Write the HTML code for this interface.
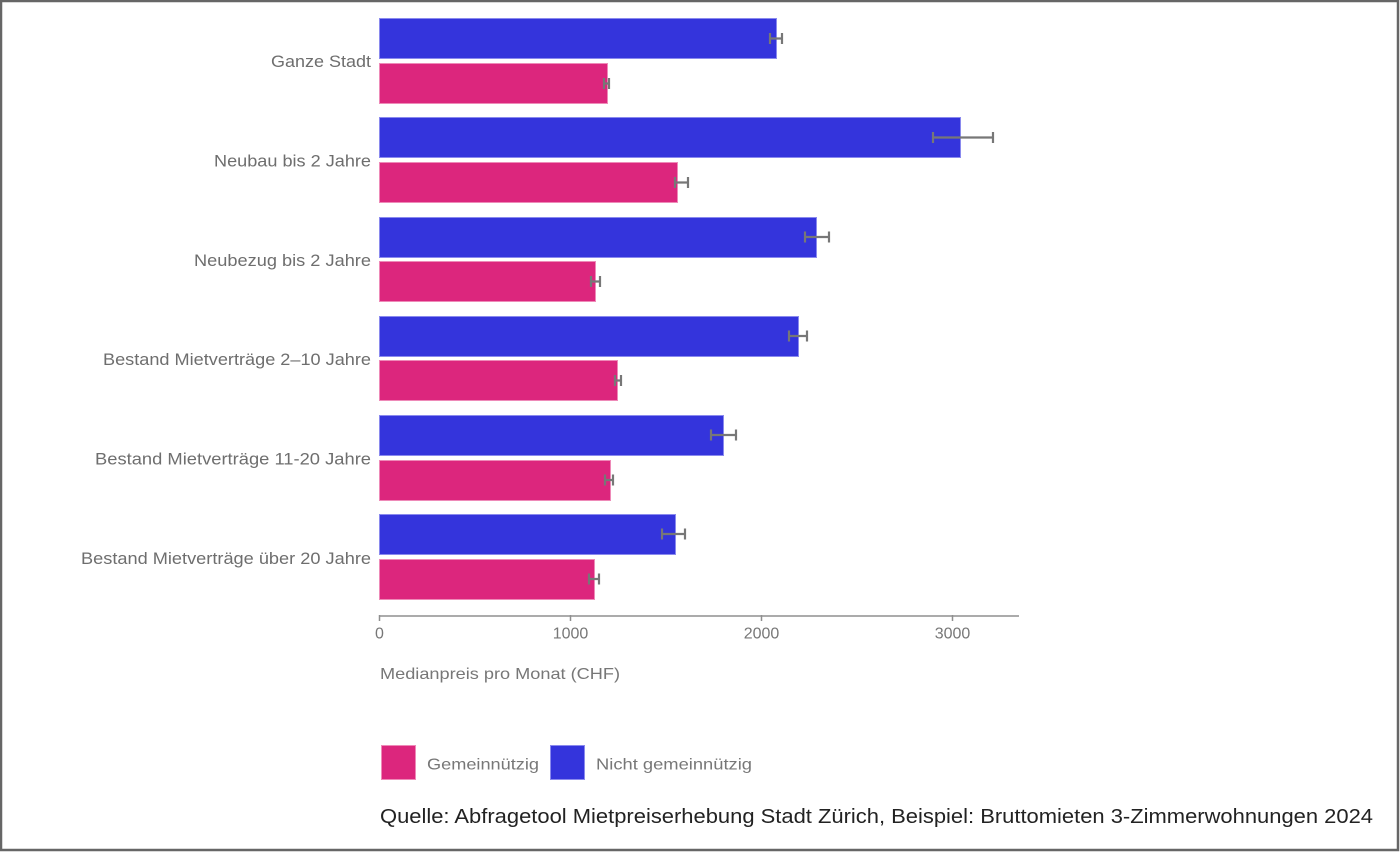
<!DOCTYPE html>
<html><head><meta charset="utf-8"><style>
html,body{margin:0;padding:0;background:#fff}
svg{display:block}
</style></head><body>
<svg width="1400" height="852" viewBox="0 0 1400 852" xmlns="http://www.w3.org/2000/svg" font-family="Liberation Sans, Arial, sans-serif">
<rect x="0" y="0" width="1400" height="852" fill="#fff"/>
<rect x="1" y="1" width="1397" height="849" fill="none" stroke="#666" stroke-width="2.5"/>

<g fill="#6e6e6e" font-size="16.5" text-anchor="end">
<text x="371" y="67" textLength="100" lengthAdjust="spacingAndGlyphs">Ganze Stadt</text>
<text x="371" y="166.4" textLength="157" lengthAdjust="spacingAndGlyphs">Neubau bis 2 Jahre</text>
<text x="371" y="265.8" textLength="177" lengthAdjust="spacingAndGlyphs">Neubezug bis 2 Jahre</text>
<text x="371" y="365.2" textLength="268" lengthAdjust="spacingAndGlyphs">Bestand Mietverträge 2–10 Jahre</text>
<text x="371" y="464.6" textLength="276" lengthAdjust="spacingAndGlyphs">Bestand Mietverträge 11-20 Jahre</text>
<text x="371" y="564" textLength="290" lengthAdjust="spacingAndGlyphs">Bestand Mietverträge über 20 Jahre</text>
</g>

<g stroke-width="1">
<rect x="379.5" y="18.5" width="397" height="40" fill="#3434dc" stroke="#8a8aee"/>
<rect x="379.5" y="63.5" width="228" height="40" fill="#dc267d" stroke="#ee8ab8"/>
<rect x="379.5" y="117.5" width="581" height="40" fill="#3434dc" stroke="#8a8aee"/>
<rect x="379.5" y="162.5" width="298" height="40" fill="#dc267d" stroke="#ee8ab8"/>
<rect x="379.5" y="217.5" width="437" height="40" fill="#3434dc" stroke="#8a8aee"/>
<rect x="379.5" y="261.5" width="216" height="40" fill="#dc267d" stroke="#ee8ab8"/>
<rect x="379.5" y="316.5" width="419" height="40" fill="#3434dc" stroke="#8a8aee"/>
<rect x="379.5" y="360.5" width="238" height="40" fill="#dc267d" stroke="#ee8ab8"/>
<rect x="379.5" y="415.5" width="344" height="40" fill="#3434dc" stroke="#8a8aee"/>
<rect x="379.5" y="460.5" width="231" height="40" fill="#dc267d" stroke="#ee8ab8"/>
<rect x="379.5" y="514.5" width="296" height="40" fill="#3434dc" stroke="#8a8aee"/>
<rect x="379.5" y="559.5" width="215" height="40" fill="#dc267d" stroke="#ee8ab8"/>
</g>

<g stroke="#777" stroke-width="2.2" fill="none">
<path d="M770 38.5H782M770 33V44M782 33V44"/>
<path d="M604 83.5H609M604 78V89M609 78V89"/>
<path d="M933 137.5H993M933 132V143M993 132V143"/>
<path d="M675 182.5H688M675 177V188M688 177V188"/>
<path d="M805 237H829M805 231.5V242.5M829 231.5V242.5"/>
<path d="M591 281.5H600M591 276V287M600 276V287"/>
<path d="M789 336H807M789 330.5V341.5M807 330.5V341.5"/>
<path d="M615 380.5H621M615 375V386M621 375V386"/>
<path d="M711 435H736M711 429.5V440.5M736 429.5V440.5"/>
<path d="M605 480H613M605 474.5V485.5M613 474.5V485.5"/>
<path d="M662 534H685M662 528.5V539.5M685 528.5V539.5"/>
<path d="M589 579H599M589 573.5V584.5M599 573.5V584.5"/>
</g>

<g stroke="#8f8f8f" stroke-width="1.5" fill="none">
<path d="M379 616H1019"/>
<path d="M379.5 615V621M570.5 615V621M761.5 615V621M952.5 615V621"/>
</g>
<g fill="#777" font-size="16" text-anchor="middle">
<text x="379.5" y="638.5">0</text>
<text x="570.5" y="638.5">1000</text>
<text x="761.5" y="638.5">2000</text>
<text x="952.5" y="638.5">3000</text>
</g>
<text x="380" y="679" fill="#777" font-size="16" textLength="240" lengthAdjust="spacingAndGlyphs">Medianpreis pro Monat (CHF)</text>

<rect x="381.5" y="745.5" width="34" height="34" fill="#dc267d" stroke="#ee8ab8"/>
<text x="427" y="769.5" fill="#777" font-size="16" textLength="112" lengthAdjust="spacingAndGlyphs">Gemeinnützig</text>
<rect x="550.5" y="745.5" width="34" height="34" fill="#3434dc" stroke="#8a8aee"/>
<text x="596" y="769.5" fill="#777" font-size="16" textLength="156" lengthAdjust="spacingAndGlyphs">Nicht gemeinnützig</text>

<text x="380" y="823" fill="#222" font-size="20" textLength="993" lengthAdjust="spacingAndGlyphs">Quelle: Abfragetool Mietpreiserhebung Stadt Zürich, Beispiel: Bruttomieten 3-Zimmerwohnungen 2024</text>
</svg>
</body></html>
